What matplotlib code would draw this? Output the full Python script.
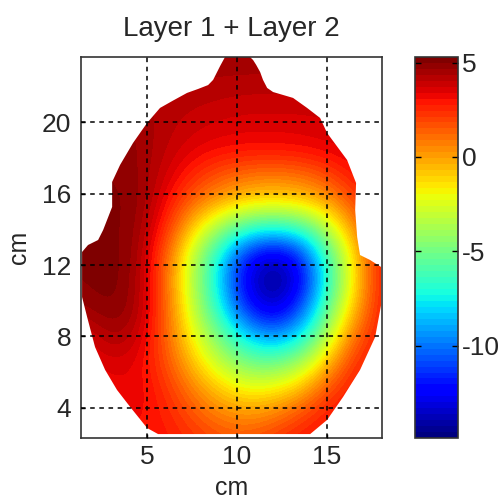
import numpy as np
import matplotlib
matplotlib.use("Agg")
import matplotlib.pyplot as plt
from matplotlib.patches import Polygon

plt.rcParams["font.family"] = ["Liberation Sans", "DejaVu Sans"]
plt.rcParams["axes.unicode_minus"] = False

TEXT = "#262626"

# grid nodes, cm
x_nodes = [1.5, 3, 4.5, 6, 7.5, 9, 10.5, 12, 13.5, 15, 16.5, 18]
y_nodes = [2, 3.5, 5, 6.5, 8, 9.5, 11, 12.5, 14, 15.5, 17, 18.5, 20, 21.5, 23, 24.5]

# values, bottom row first
values = [
    [3.0, 3.0, 3.0, 3.0, 2.5, 2.0, 1.8, 2.5, 3.0, 3.0, 3.0, 3.0],
    [3.0, 3.0, 3.2, 2.8, 1.8, 0.8, 0.4, 0.8, 2.0, 3.0, 3.0, 3.0],
    [3.0, 3.2, 3.4, 2.5, 0.8, -0.8, -1.8, -1.6, -0.5, 1.8, 3.0, 3.0],
    [3.2, 3.6, 3.4, 1.9, -0.6, -3.0, -4.8, -5.2, -3.8, -0.6, 2.5, 3.0],
    [3.4, 4.5, 4.0, 1.5, -1.8, -5.0, -8.0, -9.4, -7.8, -3.4, 1.2, 3.0],
    [4.6, 5.1, 4.5, 1.6, -2.8, -7.0, -11.5, -13.5, -11.0, -5.5, -0.5, 3.0],
    [5.0, 5.2, 4.6, 1.4, -3.3, -8.0, -13.0, -14.9, -13.0, -7.0, -1.4, 3.0],
    [5.0, 5.2, 4.7, 1.6, -3.0, -7.5, -12.0, -13.8, -12.0, -6.4, -1.2, 3.0],
    [5.0, 5.1, 4.8, 2.6, -1.0, -4.2, -6.8, -7.5, -6.8, -3.6, 0.3, 3.0],
    [5.0, 5.1, 4.9, 3.3, 1.2, -0.2, -1.2, -1.5, -1.2, -0.2, 1.8, 3.0],
    [5.0, 5.0, 4.8, 3.8, 2.6, 1.6, 1.0, 0.8, 1.0, 1.8, 3.0, 3.3],
    [5.0, 5.0, 4.7, 4.1, 3.5, 3.2, 3.1, 3.1, 3.2, 3.4, 3.6, 3.5],
    [5.0, 4.9, 4.6, 4.2, 3.9, 3.7, 3.6, 3.6, 3.6, 3.7, 3.7, 3.7],
    [4.6, 4.5, 4.4, 4.3, 4.2, 4.1, 4.0, 4.0, 4.0, 4.0, 4.0, 4.0],
    [4.5, 4.5, 4.5, 4.5, 4.5, 4.5, 4.5, 4.5, 4.5, 4.5, 4.5, 4.5],
    [4.5, 4.5, 4.5, 4.5, 4.5, 4.5, 4.5, 4.5, 4.5, 4.5, 4.5, 4.5],
]

# head outline, cm
outline_x = [9.33, 9.06, 8.89, 8.67, 8.39, 7.83, 7.22, 6.44, 5.72, 5.0, 4.22, 3.5, 3.06, 3.06,
             2.56, 2.28, 1.72, 1.39, 1.39, 1.67, 2.11, 2.67, 3.33, 4.06, 5.0, 5.61, 14.06,
             15.0, 15.89, 16.83, 17.67, 18.0, 18.0, 17.39, 16.83, 16.67, 16.56, 16.61, 16.11,
             15.0, 14.61, 13.89, 13.11, 12.0, 11.67, 11.44, 11.28, 11.06, 10.89, 10.72]
outline_y = [23.64, 23.14, 22.8, 22.36, 22.07, 21.85, 21.63, 21.2, 20.79, 19.95, 18.83, 17.6,
             16.65, 15.25, 13.96, 13.4, 13.12, 12.73, 10.21, 9.09, 7.41, 6.13, 5.01, 4.06,
             2.88, 2.54, 2.54, 3.33, 4.62, 6.13, 7.97, 9.76, 11.89, 12.28, 12.56, 13.57,
             15.08, 16.59, 17.88, 19.39, 20.23, 20.79, 21.35, 21.68, 21.91, 22.36, 22.8, 23.2,
             23.47, 23.64]

x_ticks = [5, 10, 15]
y_ticks = [4, 8, 12, 16, 20]
c_ticks = [-10, -5, 0, 5]
vmin, vmax = -14.9, 5.3

fig = plt.figure(figsize=(5.01, 5.01), dpi=100)
ax = fig.add_axes([81 / 501, 1 - 438 / 501, 301 / 501, 381 / 501])
cax = fig.add_axes([415 / 501, 1 - 438 / 501, 43 / 501, 381 / 501])

dx = (x_nodes[1] - x_nodes[0]) / 2
dy = (y_nodes[1] - y_nodes[0]) / 2
im = ax.imshow(values, origin="lower", aspect="auto",
               extent=[x_nodes[0] - dx, x_nodes[-1] + dx, y_nodes[0] - dy, y_nodes[-1] + dy],
               cmap=plt.get_cmap("jet", 64), vmin=vmin, vmax=vmax,
               interpolation="bicubic", interpolation_stage="data")
head = Polygon(np.column_stack([outline_x, outline_y]), closed=True, transform=ax.transData,
               fc="none", ec="none")
ax.add_patch(head)
im.set_clip_path(head)

ax.set_xlim(1.33, 18.05)
ax.set_ylim(2.32, 23.64)
ax.set_xticks(x_ticks)
ax.set_yticks(y_ticks)
ax.grid(True, color="k", ls=(0, (3, 3)), lw=1.1)
ax.set_axisbelow(False)
ax.tick_params(direction="in", length=3, width=1, labelsize=19, labelcolor=TEXT, pad=7)
ax.tick_params(axis="x", pad=5)
ax.set_xlabel("cm", fontsize=18, color=TEXT, labelpad=5)
ax.set_ylabel("cm", fontsize=18, color=TEXT, labelpad=8)
ax.set_title("Layer 1 + Layer 2", fontsize=20, color=TEXT, pad=15)
for s in ax.spines.values():
    s.set_linewidth(1.2)
    s.set_color("#333333")

cb = fig.colorbar(im, cax=cax, ticks=c_ticks)
cb.outline.set_linewidth(1.2)
cb.outline.set_edgecolor("#333333")
cax.tick_params(direction="in", length=4, width=1, labelsize=19, labelcolor=TEXT, pad=3,
                left=True, right=True)

fig.savefig("out.png", dpi=100)
